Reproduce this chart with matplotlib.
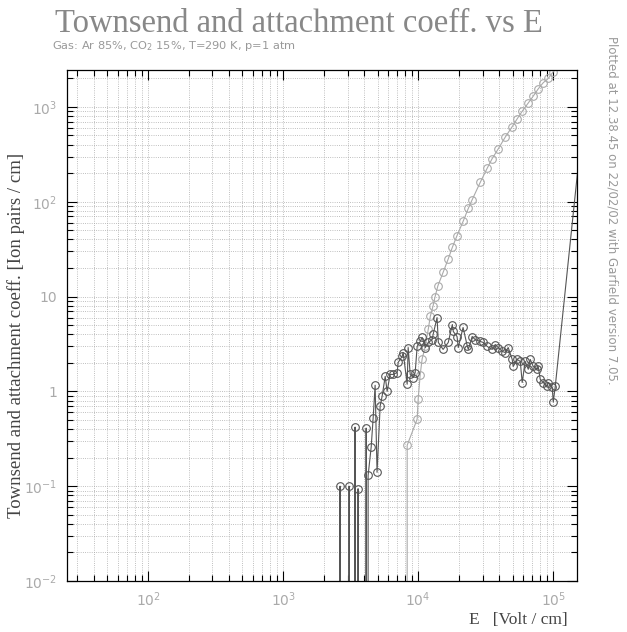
import matplotlib
matplotlib.use('Agg')
import matplotlib.pyplot as plt
from matplotlib.ticker import LogLocator, FixedLocator, FixedFormatter, NullFormatter

# attachment coefficient (dark curve), 0 = below the axis
att_E = [2500, 2640, 2700, 2950, 3080, 3150, 3300, 3410, 3500, 3590, 3700, 3900,
         4120, 4200, 4260, 4490, 4640, 4800, 4960, 5230, 5410, 5700, 5890, 6200,
         6530, 6990, 7110, 7610, 7740, 8290, 8430, 8730, 9190, 9500, 9830, 10350,
         10700, 11300, 11900, 12700, 12900, 13800, 14100, 15300, 16700, 17900,
         18200, 19400, 19800, 21500, 23100, 23500, 25100, 26400, 28800, 30300,
         32400, 35300, 37200, 39100, 41900, 44100, 46400, 49700, 50500, 54100,
         57000, 58900, 62000, 65300, 67600, 71100, 76100, 77400, 80100, 84300,
         90300, 91900, 98300, 100000, 103500, 200000]
att_val = [0, 0.10, 0, 0, 0.10, 0, 0, 0.42, 0, 0.094, 0, 0,
           0.41, 0, 0.13, 0.26, 0.52, 1.16, 0.14, 0.70, 0.89, 1.44, 1.0, 1.51,
           1.51, 1.58, 2.02, 2.34, 2.57, 1.19, 2.9, 1.51, 1.40, 1.58, 2.98, 3.36,
           3.7, 2.9, 3.28, 3.52, 3.98, 6.0, 3.28, 2.77, 3.28, 5.07,
           4.28, 3.79, 2.9, 4.72, 3.0, 2.77, 3.79, 3.52, 3.36, 3.28,
           2.98, 2.77, 3.12, 2.9, 2.64, 2.57, 2.9, 2.17, 1.83, 2.17,
           2.07, 1.24, 2.07, 1.71, 2.17, 1.83, 1.71, 1.83, 1.34, 1.24,
           1.13, 1.24, 1.10, 0.77, 1.13, 9300]

# Townsend coefficient (light curve)
town_E = [7700, 8290, 9830, 10000, 10350, 10700, 11300, 11900, 12300, 12900,
          13300, 14000, 15300, 16700, 17900, 19400, 21500, 23500, 25100, 28800,
          32400, 35300, 39100, 44100, 49700, 54100, 58900, 65300, 71100, 77400,
          84300, 91900, 100000, 110000, 120000]
town_val = [0, 0.27, 0.51, 0.83, 1.5, 2.2, 3.0, 4.6, 6.2, 8.0,
            9.8, 13, 18, 25, 33, 44, 62, 85, 105, 160,
            225, 285, 360, 480, 620, 750, 900, 1100, 1300, 1550,
            1800, 2000, 2350, 2700, 3200]

x_ticks = [1e2, 1e3, 1e4, 1e5]
x_labels = ['$10^{2}$', '$10^{3}$', '$10^{4}$', '$10^{5}$']
y_ticks = [1e-2, 1e-1, 1, 10, 1e2, 1e3]
y_labels = ['$10^{-2}$', '$10^{-1}$', '1', '10', '$10^{2}$', '$10^{3}$']

fig = plt.figure(figsize=(6.27, 6.32), dpi=100)
ax = fig.add_axes([0.1064, 0.0807, 0.8139, 0.8085])
ax.set_xscale('log')
ax.set_yscale('log')

ax.plot(town_E, town_val, '-o', color='#aaaaaa', lw=0.8, ms=5.5,
        mfc='none', mec='#aaaaaa', mew=0.8)
ax.plot(att_E, att_val, '-o', color='#555555', lw=0.8, ms=5.5,
        mfc='none', mec='#555555', mew=0.8)

ax.set_xlim(25, 1.5e5)
ax.set_ylim(1e-2, 2450)

ax.xaxis.set_major_locator(FixedLocator(x_ticks))
ax.xaxis.set_major_formatter(FixedFormatter(x_labels))
ax.yaxis.set_major_locator(FixedLocator(y_ticks))
ax.yaxis.set_major_formatter(FixedFormatter(y_labels))
ax.xaxis.set_minor_locator(LogLocator(base=10, subs=range(2, 10), numticks=20))
ax.yaxis.set_minor_locator(LogLocator(base=10, subs=range(2, 10), numticks=20))
ax.xaxis.set_minor_formatter(NullFormatter())
ax.yaxis.set_minor_formatter(NullFormatter())

ax.tick_params(which='both', direction='in', top=True, right=True, width=0.8)
ax.tick_params(which='major', length=7, labelsize=10, labelcolor='#aaaaaa', pad=7)
ax.tick_params(which='minor', length=4)
ax.grid(which='both', linestyle=':', color='#aaaaaa', lw=0.6)
for s in ax.spines.values():
    s.set_linewidth(0.9)

fig.text(0.476, 0.962, 'Townsend and attachment coeff. vs E', family='Liberation Serif',
         fontsize=23.5, color='#888888', ha='center', va='center')
fig.text(0.083, 0.928, 'Gas: Ar 85%, CO$_2$ 15%, T=290 K, p=1 atm',
         fontsize=8.2, color='#999999', ha='left', va='center')
fig.text(0.976, 0.668, 'Plotted at 12.38.45 on 22/02/02 with Garfield version 7.05.',
         fontsize=8.5, color='#999999', rotation=-90, ha='center', va='center')
fig.text(0.025, 0.47, 'Townsend and attachment coeff. [Ion pairs / cm]',
         family='Liberation Serif', fontsize=13.5, color='#444444',
         rotation=90, ha='center', va='center')
fig.text(0.905, 0.019, 'E   [Volt / cm]', family='Liberation Serif',
         fontsize=12.5, color='#444444', ha='right', va='center')

fig.savefig('out.png', dpi=100)
